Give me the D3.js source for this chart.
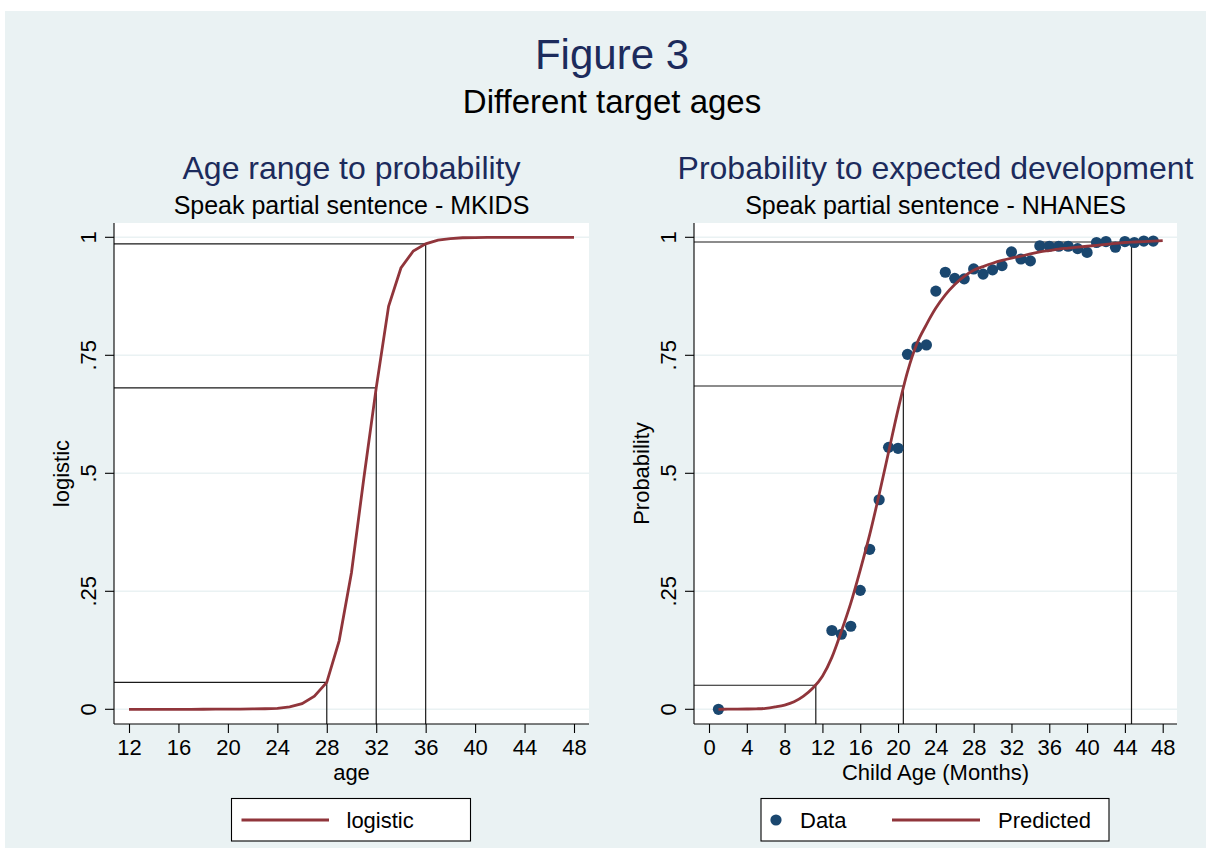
<!DOCTYPE html>
<html lang="en">
<head>
<meta charset="UTF-8">
<title>Figure 3</title>
<script src="https://cdn.jsdelivr.net/npm/d3@7"></script>
<style>
    body { margin: 0; background: #fff; }
    svg { display: block; font-family: "Liberation Sans", Arial, Helvetica, sans-serif; }
</style>
</head>
<body>
<svg id="chart" width="1206" height="848"></svg>
<script>
// ---- left panel (MKIDS logistic) ----
const mkAges = [12, 13, 14, 15, 16, 17, 18, 19, 20, 21, 22, 23, 24, 25, 26, 27, 28, 29, 30,
                31, 32, 33, 34, 35, 36, 37, 38, 39, 40, 41, 42, 43, 44, 45, 46, 47, 48];
const mkLogistic = [0, 0, 0, 0, 0, 0, 0.0001, 0.0002, 0.0003, 0.0005, 0.0008, 0.0012, 0.002,
                    0.005, 0.012, 0.028, 0.057, 0.145, 0.29, 0.49, 0.681, 0.854, 0.935, 0.971,
                    0.986, 0.994, 0.997, 0.999, 0.9995, 1, 1, 1, 1, 1, 1, 1, 1];
const mkTargetAges = [28, 32, 36];
const mkTargetProbs = [0.057, 0.681, 0.986];
const mkXTicks = [12, 16, 20, 24, 28, 32, 36, 40, 44, 48];

// ---- right panel (NHANES data + predicted) ----
const nhAges = [1, 13, 14, 15, 16, 17, 18, 19, 20, 21, 22, 23, 24, 25, 26, 27, 28, 29, 30,
                31, 32, 33, 34, 35, 36, 37, 38, 39, 40, 41, 42, 43, 44, 45, 46, 47];
const nhData = [0, 0.167, 0.159, 0.176, 0.252, 0.339, 0.444, 0.555, 0.553, 0.752, 0.768,
                0.772, 0.886, 0.926, 0.913, 0.912, 0.933, 0.922, 0.931, 0.94, 0.969, 0.954,
                0.95, 0.982, 0.981, 0.981, 0.981, 0.976, 0.968, 0.989, 0.991, 0.979, 0.991,
                0.989, 0.992, 0.992];
const predAges = [1, 2, 3, 4, 5, 6, 7, 8, 9, 10, 11, 12, 13, 14, 15, 16, 17, 18, 19, 20, 21,
                  22, 23, 24, 25, 26, 27, 28, 29, 30, 31, 32, 33, 34, 35, 36, 37, 38, 39, 40,
                  41, 42, 43, 44, 45, 46, 47, 48];
const predProbs = [0, 0.0002, 0.0004, 0.0006, 0.001, 0.002, 0.005, 0.009, 0.016, 0.028, 0.045,
                   0.07, 0.11, 0.165, 0.225, 0.295, 0.37, 0.455, 0.545, 0.635, 0.715, 0.775,
                   0.815, 0.85, 0.878, 0.9, 0.917, 0.93, 0.938, 0.945, 0.951, 0.956, 0.96,
                   0.965, 0.969, 0.972, 0.975, 0.977, 0.979, 0.981, 0.983, 0.985, 0.987, 0.989,
                   0.99, 0.991, 0.992, 0.993];
const nhTargetAges = [11.3, 20.56, 44.7];
const nhTargetProbs = [0.051, 0.685, 0.99];
const nhXTicks = [0, 4, 8, 12, 16, 20, 24, 28, 32, 36, 40, 44, 48];

const yTicks = [0, 0.25, 0.5, 0.75, 1];
const yTickLabels = ['0', '.25', '.5', '.75', '1'];

const BG = '#eaf2f3', MAROON = '#90353b', NAVY = '#1a476f', TITLE = '#1c2b5c';
const svg = d3.select('#chart');

// graph region
svg.append('rect').attr('x', 5).attr('y', 11).attr('width', 1201).attr('height', 837).attr('fill', BG);

function text(x, y, str, size, opts = {}) {
    return svg.append('text')
        .attr('x', x).attr('y', y)
        .attr('text-anchor', opts.anchor || 'middle')
        .attr('font-size', size)
        .attr('fill', opts.fill || '#000')
        .attr('transform', opts.rotate ? `rotate(-90, ${x}, ${y})` : null)
        .text(str);
}

text(612, 69, 'Figure 3', 42, { fill: TITLE });
text(612, 113, 'Different target ages', 33);

function drawPanel(p) {
    const x = d3.scaleLinear(p.xDomain, p.xRange);
    const y = d3.scaleLinear([0, 1], [709.3, 237.3]);
    const g = svg.append('g');

    // plot region
    g.append('rect').attr('x', p.left).attr('y', 223)
        .attr('width', p.right - p.left).attr('height', 724 - 223).attr('fill', '#fff');

    // gridlines
    g.selectAll('.grid').data(yTicks).enter().append('line')
        .attr('x1', p.left).attr('x2', p.right)
        .attr('y1', d => y(d)).attr('y2', d => y(d))
        .attr('stroke', BG).attr('stroke-width', 1.5);

    // target lines
    p.targetAges.forEach((a, i) => {
        const py = y(p.targetProbs[i]);
        g.append('path')
            .attr('d', `M${p.left},${py}H${x(a)}V724`)
            .attr('fill', 'none').attr('stroke', '#1a1a1a').attr('stroke-width', 1.2);
    });

    // curve
    const line = d3.line().x(d => x(d[0])).y(d => y(d[1]));
    if (p.smooth) line.curve(d3.curveMonotoneX);

    // data points
    if (p.dotX) {
        g.selectAll('.dot').data(d3.zip(p.dotX, p.dotY)).enter().append('circle')
            .attr('cx', d => x(d[0])).attr('cy', d => y(d[1]))
            .attr('r', 5.6).attr('fill', NAVY);
    }
    g.append('path')
        .attr('d', line(d3.zip(p.curveX, p.curveY)))
        .attr('fill', 'none').attr('stroke', MAROON).attr('stroke-width', 2.8);

    // axes
    g.append('line').attr('x1', p.left).attr('x2', p.left).attr('y1', 223).attr('y2', 724)
        .attr('stroke', '#000').attr('stroke-width', 1.1);
    g.append('line').attr('x1', p.left).attr('x2', p.right).attr('y1', 724).attr('y2', 724)
        .attr('stroke', '#000').attr('stroke-width', 1.1);

    const xAxis = g.append('g').attr('transform', 'translate(0,724)')
        .call(d3.axisBottom(x).tickValues(p.xTicks).tickSize(9).tickPadding(6).tickFormat(d3.format('d')));
    xAxis.select('.domain').remove();
    xAxis.selectAll('line').attr('stroke', '#000').attr('stroke-width', 1.1);
    xAxis.selectAll('text').attr('font-size', 22).attr('fill', '#000')
        .attr('font-family', '"Liberation Sans", Arial, sans-serif');

    g.selectAll('.ytick').data(yTicks).enter().append('line')
        .attr('x1', p.left - 9).attr('x2', p.left)
        .attr('y1', d => y(d)).attr('y2', d => y(d))
        .attr('stroke', '#000').attr('stroke-width', 1.1);
    yTicks.forEach((t, i) => text(p.left - 18, y(t), yTickLabels[i], 22, { rotate: true }));

    // titles
    const cx = (p.left + p.right) / 2;
    text(cx, 179, p.title, 32, { fill: TITLE });
    text(cx, 214, p.subtitle, 25);
    text(cx, 780, p.xTitle, 22);
    text(p.left - 45, 473.5, p.yTitle, 22, { rotate: true });
}

drawPanel({
    left: 114, right: 589, xDomain: [12, 48], xRange: [129, 574], xTicks: mkXTicks,
    curveX: mkAges, curveY: mkLogistic, smooth: false,
    targetAges: mkTargetAges, targetProbs: mkTargetProbs,
    title: 'Age range to probability', subtitle: 'Speak partial sentence - MKIDS',
    xTitle: 'age', yTitle: 'logistic'
});

drawPanel({
    left: 694, right: 1177, xDomain: [0, 48], xRange: [709, 1162.7], xTicks: nhXTicks,
    curveX: predAges, curveY: predProbs, smooth: true, dotX: nhAges, dotY: nhData,
    targetAges: nhTargetAges, targetProbs: nhTargetProbs,
    title: 'Probability to expected development', subtitle: 'Speak partial sentence - NHANES',
    xTitle: 'Child Age (Months)', yTitle: 'Probability'
});

// legends
function legendBox(x0, x1) {
    svg.append('rect').attr('x', x0).attr('y', 798.5).attr('width', x1 - x0).attr('height', 42.5)
        .attr('fill', '#fff').attr('stroke', '#000').attr('stroke-width', 1.1);
}
legendBox(231.5, 470.5);
svg.append('line').attr('x1', 241.5).attr('x2', 329).attr('y1', 820).attr('y2', 820)
    .attr('stroke', MAROON).attr('stroke-width', 2.8);
text(346.5, 828, 'logistic', 22, { anchor: 'start' });

legendBox(761, 1109);
svg.append('circle').attr('cx', 776).attr('cy', 820).attr('r', 5.6).attr('fill', NAVY);
text(800, 828, 'Data', 22, { anchor: 'start' });
svg.append('line').attr('x1', 892).attr('x2', 980).attr('y1', 820).attr('y2', 820)
    .attr('stroke', MAROON).attr('stroke-width', 2.8);
text(998, 828, 'Predicted', 22, { anchor: 'start' });
</script>
</body>
</html>
